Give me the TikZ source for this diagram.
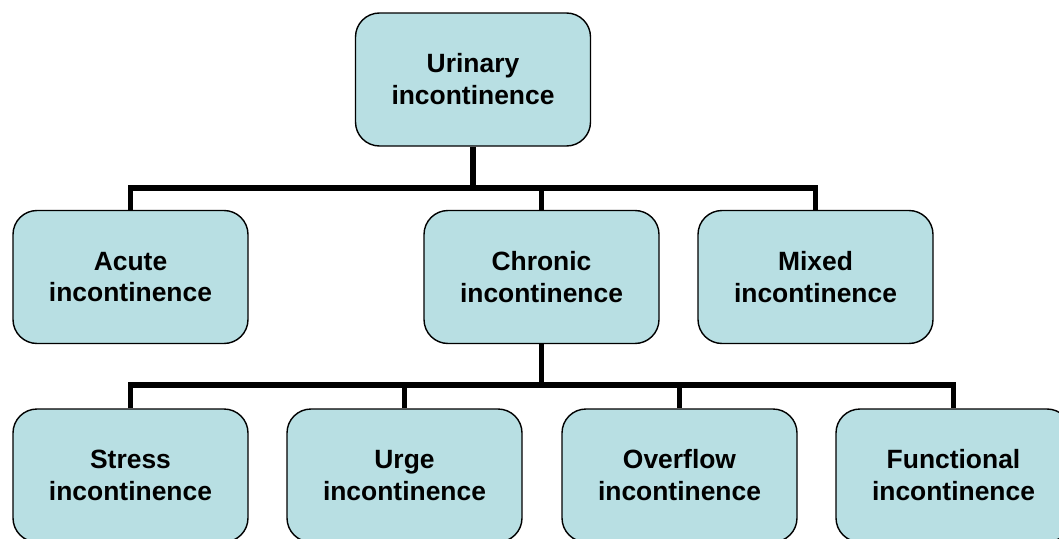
\documentclass[tikz,border=0pt]{standalone}
\usepackage{fontspec}
\setmainfont{Liberation Sans}
\definecolor{boxfill}{RGB}{184,223,227}
\tikzset{
  catbox/.style={draw=black, line width=1pt, fill=boxfill, rounded corners=0.6cm,
    minimum width=5.875cm, minimum height=3.325cm, align=center,
    font=\fontsize{18.8}{22.7}\selectfont\bfseries},
  wire/.style={line width=3.6pt, line join=miter}
}
\begin{document}
\begin{tikzpicture}
  \useasboundingbox (0, 0) rectangle (26.475, -13.45);
  \clip (0, 0) rectangle (26.475, -13.45);
  % levels
  \node[catbox] (urinary) at (11.825, -1.9875) {Urinary\\incontinence};
  \node[catbox] (acute) at (3.2625, -6.925) {Acute\\incontinence};
  \node[catbox] (chronic) at (13.5375, -6.925) {Chronic\\incontinence};
  \node[catbox] (mixed) at (20.3875, -6.925) {Mixed\\incontinence};
  \node[catbox] (stress) at (3.2625, -11.8875) {Stress\\incontinence};
  \node[catbox] (urge) at (10.1125, -11.8875) {Urge\\incontinence};
  \node[catbox] (overflow) at (16.9875, -11.8875) {Overflow\\incontinence};
  \node[catbox] (functional) at (23.8375, -11.8875) {Functional\\incontinence};
  \coordinate (bus1) at (0, -4.7);
  \coordinate (bus2) at (0, -9.625);
  % connectors
  \draw[wire] (urinary.south) -- (urinary.south |- bus1);
  \draw[wire] (acute.north) |- (mixed.north |- bus1) -- (mixed.north);
  \draw[wire] (chronic.north) -- (chronic.north |- bus1);
  \draw[wire] (chronic.south) -- (chronic.south |- bus2);
  \draw[wire] (stress.north) |- (functional.north |- bus2) -- (functional.north);
  \foreach \n in {urge, overflow}{
    \draw[wire] (\n.north) -- (\n.north |- bus2);
  }
\end{tikzpicture}
\end{document}
